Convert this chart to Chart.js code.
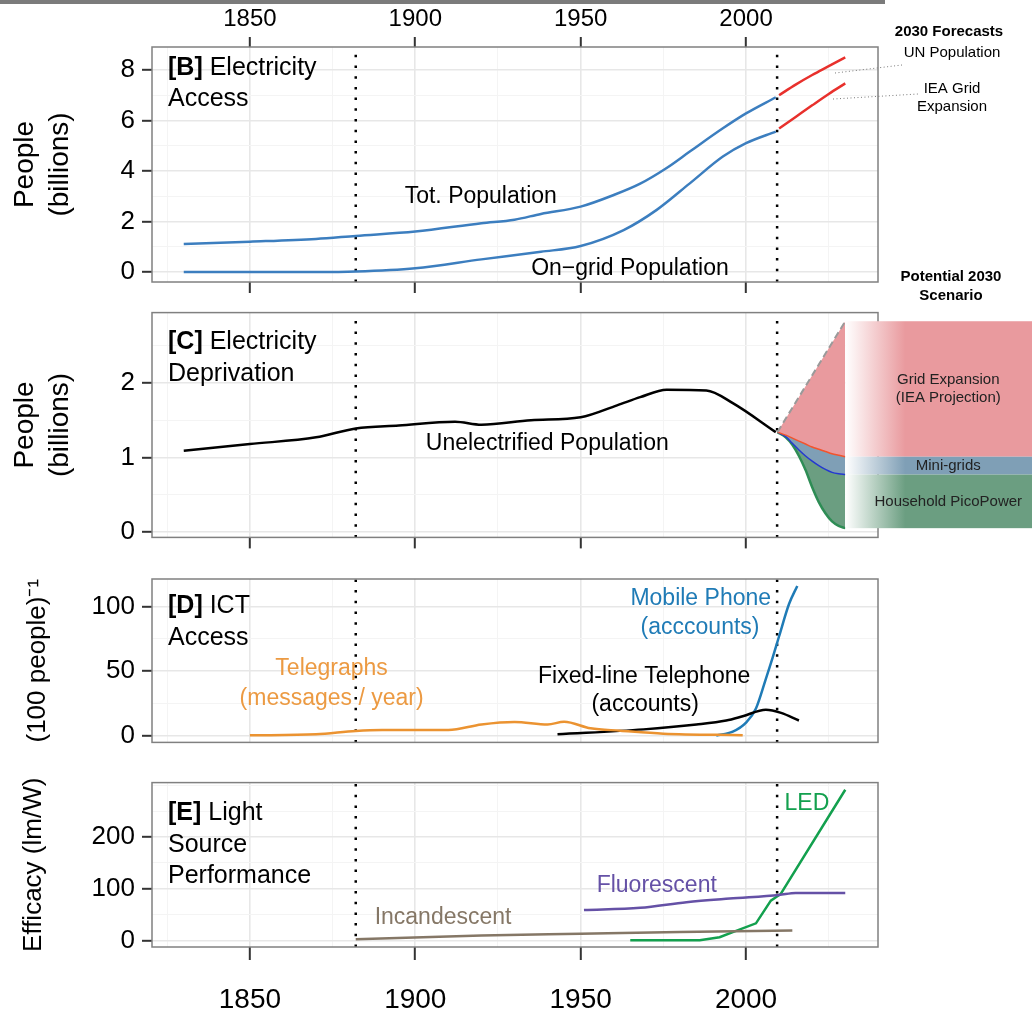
<!DOCTYPE html>
<html>
<head>
<meta charset="utf-8">
<title>Electricity access, deprivation, ICT and light sources</title>
<script src="https://cdn.jsdelivr.net/npm/chart.js@4.4.1/dist/chart.umd.min.js"></script>
<style>
  body { margin: 0; background: #fff; }
  #fig { position: relative; width: 1032px; height: 1015px; overflow: hidden; }
  #fig canvas { position: absolute; left: 0; }
  #topbar { position: absolute; left: 0; top: 0; width: 885px; height: 4px; background: #7b7b7b; }
</style>
</head>
<body>
<div id="fig">
  <div id="topbar"></div>
  <canvas id="panelB" width="1032" height="310" style="top:0"></canvas>
  <canvas id="panelC" width="1032" height="270" style="top:290px"></canvas>
  <canvas id="panelD" width="1032" height="210" style="top:555px"></canvas>
  <canvas id="panelE" width="1032" height="255" style="top:760px"></canvas>
</div>
<script>
const FONT = '"Liberation Sans", Arial, Helvetica, sans-serif'

// shared time axis (years)
const X_MIN = 1820.4
const X_MAX = 2039.9
const X_GRID = [1825, 1850, 1875, 1900, 1925, 1950, 1975, 2000, 2025]
const X_LABELS = [1850, 1900, 1950, 2000]
const MARK_YEARS = [1882, 2009.4]

// [B] electricity access (billions of people)
const TOT_YEARS = [1830, 1850, 1870, 1882, 1900, 1920, 1930, 1938, 1950, 1960, 1968, 1976, 1983, 1993, 2000, 2009]
const TOT_POP = [1.11, 1.2, 1.31, 1.43, 1.6, 1.93, 2.07, 2.3, 2.59, 3.05, 3.5, 4.12, 4.77, 5.69, 6.28, 6.92]
const GRID_YEARS = [1830, 1850, 1870, 1882, 1900, 1920, 1938, 1950, 1963, 1973, 1983, 1993, 2000, 2009]
const GRID_POP = [0, 0, 0, 0.02, 0.15, 0.5, 0.8, 1.03, 1.66, 2.46, 3.51, 4.57, 5.1, 5.56]
const FORECAST_YEARS = [2010, 2015, 2020, 2025, 2030]
const UN_POP = [7.0, 7.42, 7.8, 8.15, 8.5]
const IEA_GRID = [5.68, 6.14, 6.6, 7.05, 7.47]

// [C] electricity deprivation (billions of people)
const UNELEC_YEARS = [1830, 1850, 1870, 1882, 1895, 1912, 1920, 1935, 1950, 1961, 1968, 1976, 1988, 1996, 2009]
const UNELEC = [1.09, 1.18, 1.27, 1.39, 1.43, 1.48, 1.44, 1.5, 1.54, 1.7, 1.81, 1.91, 1.9, 1.73, 1.34]
const SCEN_TOP_YEARS = [2009.5, 2030]
const SCEN_TOP = [1.34, 2.83]
const SCEN_YEARS = [2009.5, 2012, 2014, 2016, 2018, 2020, 2022, 2024, 2026, 2028, 2030]
const SCEN_GRID = [1.34, 1.3, 1.26, 1.22, 1.18, 1.14, 1.11, 1.08, 1.05, 1.03, 1.01]
const SCEN_MINI = [1.34, 1.28, 1.19, 1.1, 1.02, 0.95, 0.89, 0.84, 0.8, 0.78, 0.77]
const SCEN_PICO = [1.34, 1.27, 1.17, 1.02, 0.83, 0.6, 0.4, 0.25, 0.14, 0.08, 0.05]

// [D] ICT access (per 100 people)
const TELEGRAPH_YEARS = [1850, 1870, 1882, 1890, 1910, 1920, 1930, 1940, 1945, 1953, 1962, 1975, 1999]
const TELEGRAPH = [0.2, 1, 3.6, 4.3, 4.3, 8.6, 10.5, 8.6, 10.7, 5.6, 3.8, 1.5, 0.3]
const FIXED_YEARS = [1943, 1969, 1985, 1994, 1999, 2006, 2010.6, 2016]
const FIXED = [1, 4.8, 8.6, 11.7, 15, 20, 17.6, 11.7]
const MOBILE_YEARS = [1991, 1996, 2000, 2003, 2006, 2008, 2010, 2013, 2015.5]
const MOBILE = [0, 3, 10, 21, 44, 60, 77, 102, 116]

// [E] light source efficacy (lm/W)
const INCAND_YEARS = [1882, 1920, 1950, 1980, 2014]
const INCAND = [2, 9.5, 12.8, 16, 19]
const FLUOR_YEARS = [1951, 1968, 1982, 1995, 2010, 2015, 2030]
const FLUOR = [59, 63, 74, 81, 88, 92, 92]
const LED_YEARS = [1965, 1986, 1992, 1996, 2003, 2007.5, 2010.5, 2030]
const LED = [0, 0, 6, 16, 33, 77, 90, 292]

const GRID_MAJOR = '#e7e7e7'
const GRID_MINOR = '#f4f4f4'
const TICK = '#333'
const CLEAR = 'rgba(0,0,0,0)'

Chart.defaults.font.family = FONT

const pts = (xs, ys) => xs.map((x, i) => ({x, y: ys[i]}))

function series(xs, ys, color, extra) {
  return {data: pts(xs, ys), borderColor: color, borderWidth: 2.5, pointRadius: 0, fill: false,
    cubicInterpolationMode: 'monotone', ...extra}
}

function markers(min, max) {
  return MARK_YEARS.map(yr => ({data: pts([yr, yr], [min, max]), borderColor: '#000', borderWidth: 2.5,
    borderDash: [2.5, 8.2], pointRadius: 0, fill: false}))
}

function xAxis({position = 'bottom', height = 0, tickLength = 0, labels = false, area = true, size = 24, padding = 0} = {}) {
  const major = c => c.tick && X_LABELS.includes(c.tick.value)
  return {
    type: 'linear', position, min: X_MIN, max: X_MAX,
    afterBuildTicks: s => { s.ticks = X_GRID.map(value => ({value})) },
    afterFit: s => { s.height = height },
    border: {display: false},
    grid: {
      drawOnChartArea: area, drawTicks: tickLength > 0, tickLength, tickWidth: 2,
      color: c => major(c) ? GRID_MAJOR : GRID_MINOR,
      lineWidth: c => major(c) ? 1.6 : 1,
      tickColor: c => major(c) ? TICK : CLEAR,
    },
    ticks: {display: labels, autoSkip: false, maxRotation: 0, padding, color: '#000',
      font: {size}, callback: v => X_LABELS.includes(v) ? String(v) : ''},
  }
}

function yAxis({min, max, grid, labels, title, titleSize, titlePad}) {
  const major = c => c.tick && labels.includes(c.tick.value)
  return {
    type: 'linear', position: 'left', min, max,
    afterBuildTicks: s => { s.ticks = grid.map(value => ({value})) },
    afterFit: s => { s.width = 152 },
    border: {display: false},
    grid: {
      tickLength: 10, tickWidth: 2,
      color: c => major(c) ? GRID_MAJOR : GRID_MINOR,
      lineWidth: c => major(c) ? 1.6 : 1,
      tickColor: c => major(c) ? TICK : CLEAR,
    },
    ticks: {autoSkip: false, padding: 7, color: '#000', font: {size: 26},
      callback: v => labels.includes(v) ? String(v) : ''},
    title: {display: true, text: title, color: '#000', padding: {top: titlePad},
      font: {size: titleSize, lineHeight: 1.25}},
  }
}

function text(ctx, str, x, y, {size = 23, color = '#000', weight = 'normal', align = 'center'} = {}) {
  ctx.font = `${weight} ${size}px ${FONT}`
  ctx.fillStyle = color
  ctx.textAlign = align
  ctx.textBaseline = 'middle'
  ctx.fillText(str, x, y)
}

function heading(ctx, x, y, tag, lines) {
  ctx.font = `bold 25px ${FONT}`
  const w = ctx.measureText(tag + ' ').width
  text(ctx, tag, x, y, {size: 25, weight: 'bold', align: 'left'})
  lines.forEach((l, i) => text(ctx, l, i === 0 ? x + w : x, y + i * 31.6, {size: 25, align: 'left'}))
}

function leader(ctx, x0, y0, x1, y1) {
  ctx.save()
  ctx.strokeStyle = '#777'
  ctx.lineWidth = 1
  ctx.setLineDash([1, 2.5])
  ctx.beginPath()
  ctx.moveTo(x0, y0)
  ctx.lineTo(x1, y1)
  ctx.stroke()
  ctx.restore()
}

const frame = {
  id: 'frame',
  afterDatasetsDraw(chart) {
    const {ctx, chartArea: a} = chart
    ctx.save()
    ctx.strokeStyle = '#808080'
    ctx.lineWidth = 1.5
    ctx.strokeRect(a.left, a.top, a.width, a.height)
    ctx.restore()
  },
}

function notes(fn) {
  return {id: 'notes', afterDraw: chart => {
    const X = v => chart.scales.x.getPixelForValue(v)
    const Y = v => chart.scales.y.getPixelForValue(v)
    chart.ctx.save()
    fn(chart.ctx, X, Y, chart.chartArea, chart)
    chart.ctx.restore()
  }}
}

function panel(id, {datasets, scales, padding, plugins}) {
  return new Chart(document.getElementById(id), {
    type: 'line',
    data: {datasets},
    options: {
      responsive: false, animation: false, events: [],
      layout: {padding},
      plugins: {legend: {display: false}, tooltip: {enabled: false}},
      scales,
    },
    plugins: [frame, ...plugins],
  })
}

// ---- [B] ----
const B_Y = {min: -0.396, max: 8.91}
panel('panelB', {
  datasets: [
    series(TOT_YEARS, TOT_POP, '#3c7ebf'),
    series(GRID_YEARS, GRID_POP, '#3c7ebf'),
    series(FORECAST_YEARS, UN_POP, '#e8302c'),
    series(FORECAST_YEARS, IEA_GRID, '#e8302c'),
    ...markers(B_Y.min, B_Y.max),
  ],
  scales: {
    x: xAxis({position: 'top', height: 47, tickLength: 10, labels: true, size: 24, padding: 3}),
    x2: xAxis({position: 'bottom', height: 12, tickLength: 11, area: false}),
    y: yAxis({...B_Y, grid: [0, 1, 2, 3, 4, 5, 6, 7, 8], labels: [0, 2, 4, 6, 8],
      title: ['People', '(billions)'], titleSize: 28, titlePad: 7.5}),
  },
  padding: {left: 0, right: 154, top: 0, bottom: 16},
  plugins: [notes((ctx, X, Y, a) => {
    heading(ctx, a.left + 16, Y(8.08), '[B]', ['Electricity', 'Access'])
    text(ctx, 'Tot. Population', X(1919.8), Y(2.98))
    text(ctx, 'On\u2212grid Population', X(1964.9), Y(0.15))
    const sx = a.right + 71
    text(ctx, '2030 Forecasts', sx, 32, {size: 15, weight: 'bold'})
    text(ctx, 'UN Population', sx + 3, 53, {size: 15})
    text(ctx, 'IEA Grid', sx + 3, 89, {size: 15})
    text(ctx, 'Expansion', sx + 3, 107, {size: 15})
    leader(ctx, X(2026.9), Y(7.88), a.right + 24, 65)
    leader(ctx, X(2026.3), Y(6.85), a.right + 40, 94)
    text(ctx, 'Potential 2030', sx + 2, 277, {size: 15, weight: 'bold'})
    text(ctx, 'Scenario', sx + 2, 296, {size: 15, weight: 'bold'})
  })],
})

// ---- [C] ----
const C_Y = {min: -0.074, max: 2.946}
const PINK = '#e99a9e'
const MINI_BLUE = '#7f9fb6'
const PICO_GREEN = '#6b9e81'
const scenarioBox = {
  id: 'scenarioBox',
  afterDraw(chart) {
    const {ctx} = chart
    const y = chart.scales.y
    const last = SCEN_YEARS.length - 1
    const left = chart.scales.x.getPixelForValue(SCEN_YEARS[last])
    const bands = [
      [SCEN_TOP[SCEN_TOP.length - 1], SCEN_GRID[last], PINK, ['Grid Expansion', '(IEA Projection)']],
      [SCEN_GRID[last], SCEN_MINI[last], MINI_BLUE, ['Mini-grids']],
      [SCEN_MINI[last], SCEN_PICO[last], PICO_GREEN, ['Household PicoPower']],
    ]
    ctx.save()
    bands.forEach(([hi, lo, color, lines]) => {
      const y0 = y.getPixelForValue(hi)
      const y1 = y.getPixelForValue(lo)
      const g = ctx.createLinearGradient(left, 0, left + 60, 0)
      g.addColorStop(0, '#ffffff')
      g.addColorStop(1, color)
      ctx.fillStyle = g
      ctx.fillRect(left, y0, chart.width - left, y1 - y0)
      const mid = (y0 + y1) / 2 - (lines.length - 1) * 9
      lines.forEach((l, i) => text(ctx, l, left + 103, mid + i * 18, {size: 15, color: '#222'}))
    })
    ctx.restore()
  },
}
panel('panelC', {
  datasets: [
    series(UNELEC_YEARS, UNELEC, '#000'),
    series(SCEN_TOP_YEARS, SCEN_TOP, '#9a9a9a', {borderWidth: 2, borderDash: [7, 4], cubicInterpolationMode: 'default'}),
    series(SCEN_YEARS, SCEN_GRID, '#f2542d', {borderWidth: 1.5, fill: 1, backgroundColor: PINK}),
    series(SCEN_YEARS, SCEN_MINI, '#2438d0', {borderWidth: 1.5, fill: 2, backgroundColor: MINI_BLUE}),
    series(SCEN_YEARS, SCEN_PICO, '#2e8d55', {borderWidth: 2.5, fill: 3, backgroundColor: PICO_GREEN}),
    ...markers(C_Y.min, C_Y.max),
  ],
  scales: {
    x: xAxis({position: 'bottom', height: 12, tickLength: 11}),
    y: yAxis({...C_Y, grid: [0, 0.5, 1, 1.5, 2, 2.5], labels: [0, 1, 2],
      title: ['People', '(billions)'], titleSize: 28, titlePad: 7.5}),
  },
  padding: {left: 0, right: 154, top: 19, bottom: 5},
  plugins: [scenarioBox, notes((ctx, X, Y, a) => {
    heading(ctx, a.left + 16, Y(2.546), '[C]', ['Electricity', 'Deprivation'])
    text(ctx, 'Unelectrified Population', X(1939.9), Y(1.19))
  })],
})

// ---- [D] ----
const D_Y = {min: -5.3, max: 121.4}
panel('panelD', {
  datasets: [
    series(TELEGRAPH_YEARS, TELEGRAPH, '#eb9331'),
    series(FIXED_YEARS, FIXED, '#000'),
    series(MOBILE_YEARS, MOBILE, '#1f7bb6'),
    ...markers(D_Y.min, D_Y.max),
  ],
  scales: {
    x: xAxis({position: 'bottom', height: 0}),
    y: yAxis({...D_Y, grid: [0, 25, 50, 75, 100], labels: [0, 50, 100],
      title: '(100 people)\u207B\u00B9', titleSize: 26, titlePad: 22}),
  },
  padding: {left: 0, right: 154, top: 24, bottom: 20},
  plugins: [notes((ctx, X, Y, a) => {
    heading(ctx, a.left + 16, Y(100), '[D]', ['ICT', 'Access'])
    text(ctx, 'Telegraphs', X(1874.7), Y(51.9), {color: '#ec9a42'})
    text(ctx, '(messages / year)', X(1874.7), Y(29), {color: '#ec9a42'})
    text(ctx, 'Mobile Phone', X(1986.3), Y(105.9), {color: '#1f7bb6'})
    text(ctx, '(acccounts)', X(1986.1), Y(84), {color: '#1f7bb6'})
    text(ctx, 'Fixed-line Telephone', X(1969.2), Y(45.8))
    text(ctx, '(accounts)', X(1969.5), Y(23.9))
  })],
})

// ---- [E] ----
const E_Y = {min: -12.9, max: 305.8}
panel('panelE', {
  datasets: [
    series(INCAND_YEARS, INCAND, '#857766'),
    series(FLUOR_YEARS, FLUOR, '#6551a6'),
    series(LED_YEARS, LED, '#13a04e', {cubicInterpolationMode: 'default', tension: 0}),
    ...markers(E_Y.min, E_Y.max),
  ],
  scales: {
    x: xAxis({position: 'bottom', height: 68, tickLength: 13, labels: true, size: 28, padding: 23}),
    y: yAxis({...E_Y, grid: [0, 50, 100, 150, 200, 250, 300], labels: [0, 100, 200],
      title: 'Efficacy (lm/W)', titleSize: 26, titlePad: 18}),
  },
  padding: {left: 0, right: 154, top: 21, bottom: 0},
  plugins: [notes((ctx, X, Y, a) => {
    heading(ctx, a.left + 16, Y(246.7), '[E]', ['Light', 'Source', 'Performance'])
    text(ctx, 'LED', X(2018.4), Y(264.8), {color: '#13a04e'})
    text(ctx, 'Fluorescent', X(1973), Y(105.8), {color: '#6551a6'})
    text(ctx, 'Incandescent', X(1908.4), Y(44.8), {color: '#857766'})
  })],
})
</script>
</body>
</html>
